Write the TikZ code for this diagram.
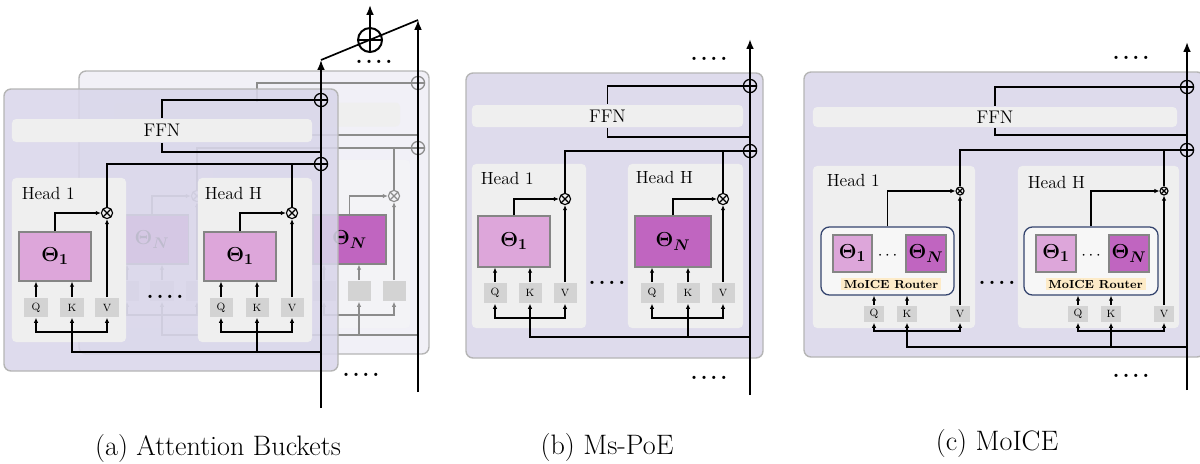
\documentclass[tikz,border=0pt]{standalone}
\usepackage{amsmath}
\usepackage{bm}
\usepackage{tikz}
\usetikzlibrary{positioning, arrows.meta}

\definecolor{layerfill}{HTML}{DEDBEC}
\definecolor{frontfill}{HTML}{D9D6EA}
\definecolor{backfill}{HTML}{F1F0F7}
\definecolor{layerline}{HTML}{B5B5B5}
\definecolor{headfill}{HTML}{EFEFEF}
\definecolor{backhead}{HTML}{F3F3F6}
\definecolor{thetalight}{HTML}{DDA6DA}
\definecolor{thetadark}{HTML}{C065C0}
\definecolor{thetaline}{HTML}{858585}
\definecolor{qkvfill}{HTML}{D3D3D3}
\definecolor{routerline}{HTML}{34446E}
\definecolor{labelfill}{HTML}{FDEBC8}
\definecolor{wiregray}{HTML}{8C8C8C}

\begin{document}
\begin{tikzpicture}[x=0.025cm, y=-0.025cm, line width=1.1pt, >={Latex[length=3.6pt,width=3.2pt]}]
        \tikzset{
            layer/.style={draw=layerline, line width=1pt, rounded corners=5pt},
            ffnbar/.style={fill=headfill, rounded corners=3pt, inner sep=0pt, font=\fontsize{13}{15}\selectfont},
            headbox/.style={fill=headfill, rounded corners=3pt, inner sep=0pt},
            headlabel/.style={anchor=west, inner sep=0pt, font=\fontsize{12.5}{15}\selectfont},
            thetaone/.style={draw=thetaline, line width=0.9pt, fill=thetalight, inner sep=0pt, font=\fontsize{15}{17}\selectfont},
            thetaN/.style={thetaone, fill=thetadark},
            qkv/.style={fill=qkvfill, inner sep=0pt, minimum width=0.575cm, minimum height=0.5cm, font=\fontsize{7.5}{8}\selectfont},
            oplus/.style={circle, draw, line width=0.9pt, inner sep=0pt, minimum size=0.33cm,
                path picture={\draw[line width=0.9pt] (path picture bounding box.north) -- (path picture bounding box.south)
                    (path picture bounding box.west) -- (path picture bounding box.east);}},
            otimes/.style={circle, draw, line width=0.8pt, inner sep=0pt, minimum size=0.28cm,
                path picture={\draw[line width=0.8pt] (path picture bounding box.north west) -- (path picture bounding box.south east)
                    (path picture bounding box.north east) -- (path picture bounding box.south west);}},
            router/.style={draw=routerline, line width=0.9pt, fill=headfill!50!white, rounded corners=6pt, inner sep=0pt,
                minimum width=3.325cm, minimum height=1.7cm},
            routerlabel/.style={fill=labelfill, inner sep=1pt, minimum width=2.5cm, font=\bfseries\fontsize{8.3}{9}\selectfont},
            dots/.style={inner sep=0pt, font=\bfseries\fontsize{16}{16}\selectfont},
            caption/.style={font=\fontsize{20}{22}\selectfont},
            backwire/.style={draw=wiregray, line width=0.9pt},
            bigtip/.style={-{Latex[length=7pt,width=5.5pt]}}
        }
        \useasboundingbox (0,0) rectangle (1200,463);

        % (a) back layer
        \draw[layer, fill=backfill] (79,71) rectangle (429,354);
        \node[ffnbar, minimum width=7.15cm, minimum height=0.6cm] (ffnB) at (257,114.5) {};
        \node[headbox, fill=backhead, minimum width=2.725cm, minimum height=4.2cm] (headB1) at (158.5,244) {};
        \node[headbox, fill=backhead, minimum width=2.725cm, minimum height=4.2cm] (headBH) at (355.5,244) {};
        \node[thetaN, minimum width=1.825cm, minimum height=1.225cm] (thetaB1) at (152,239.5) {$\bm{\Theta_N}$};
        \node[thetaN, minimum width=1.825cm, minimum height=1.225cm] (thetaBH) at (349.5,239.5) {$\bm{\Theta_N}$};
        \node[qkv] (qB1) at (127,291) {};
        \node[qkv] (kB1) at (162,291) {};
        \node[qkv] (vB1) at (197,291) {};
        \node[qkv] (qBH) at (324,291) {};
        \node[qkv] (kBH) at (359,291) {};
        \node[qkv] (vBH) at (394,291) {};
        \node[otimes, draw=wiregray] (mulB1) at (197,196) {};
        \node[otimes, draw=wiregray] (mulBH) at (394,196) {};
        \node[oplus, draw=wiregray] (addB1) at (418,83) {};
        \node[oplus, draw=wiregray] (addB2) at (418,148) {};
        \coordinate (resBbot) at (418,392);
        \coordinate (resBtop) at (418,20);
        \coordinate (retB) at (418,135);
        \coordinate (mainB) at (418,335);
        \coordinate (busB1) at (162,315);
        \coordinate (busBH) at (359,315);

        \draw[backwire] (addB1) -| (ffnB);
        \draw[backwire] (ffnB) |- (retB);
        \draw[backwire] (addB2) -| (mulB1);
        \draw[backwire] (mulBH) |- (addB2);
        \draw[backwire, ->] (thetaB1) |- (mulB1);
        \draw[backwire, ->] (thetaBH) |- (mulBH);
        \path[backwire, ->]
        (qB1) edge (qB1 |- thetaB1.south)
        (kB1) edge (kB1 |- thetaB1.south)
        (vB1) edge (mulB1)
        (qBH) edge (qBH |- thetaBH.south)
        (kBH) edge (kBH |- thetaBH.south)
        (vBH) edge (mulBH);
        \draw[backwire, ->] (mainB) -| (kB1);
        \draw[backwire, ->] (mainB) -| (kBH);
        \draw[backwire, ->] (busB1) -| (qB1);
        \draw[backwire, ->] (busB1) -| (vB1);
        \draw[backwire, ->] (busBH) -| (qBH);
        \draw[backwire, ->] (busBH) -| (vBH);

        % (a) front layer
        \draw[layer, fill=frontfill, fill opacity=0.88] (4,89) rectangle (338,371);
        \node[ffnbar, minimum width=7.5cm, minimum height=0.575cm] (ffnA) at (162,130.5) {FFN};
        \node[headbox, minimum width=2.85cm, minimum height=4.1cm] (headA1) at (69,260) {};
        \node[headbox, minimum width=2.85cm, minimum height=4.1cm] (headAH) at (255,260) {};
        \node[headlabel] (labA1) at (21,193) {Head 1};
        \node[headlabel] (labAH) at (204,193) {Head H};
        \node[thetaone, minimum width=1.8cm, minimum height=1.225cm] (thetaA1) at (55,256.5) {$\bm{\Theta_1}$};
        \node[thetaone, minimum width=1.8cm, minimum height=1.225cm] (thetaAH) at (240,256.5) {$\bm{\Theta_1}$};
        \node[qkv, minimum height=0.475cm] (qA1) at (36,307.5) {Q};
        \node[qkv, minimum height=0.475cm] (kA1) at (72,307.5) {K};
        \node[qkv, minimum height=0.475cm] (vA1) at (107,307.5) {V};
        \node[qkv, minimum height=0.475cm] (qAH) at (221,307.5) {Q};
        \node[qkv, minimum height=0.475cm] (kAH) at (257,307.5) {K};
        \node[qkv, minimum height=0.475cm] (vAH) at (292,307.5) {V};
        \node[otimes] (mulA1) at (107,213) {};
        \node[otimes] (mulAH) at (292,213) {};
        \node[oplus] (addA1) at (321,100) {};
        \node[oplus] (addA2) at (321,164) {};
        \node[dots] (dotsA) at (165,297) {.\hspace{2pt}.\hspace{2pt}.\hspace{2pt}.};
        \coordinate (resAbot) at (321,408);
        \coordinate (resAtop) at (321,60);
        \coordinate (retA) at (321,152);
        \coordinate (mainA) at (321,352);
        \coordinate (busA1) at (72,332);
        \coordinate (busAH) at (257,332);

        \draw (addA1) -| (ffnA);
        \draw (ffnA) |- (retA);
        \draw (addA2) -| (mulA1);
        \draw (mulAH) |- (addA2);
        \draw[->] (thetaA1) |- (mulA1);
        \draw[->] (thetaAH) |- (mulAH);
        \path[->]
        (qA1) edge (qA1 |- thetaA1.south)
        (kA1) edge (kA1 |- thetaA1.south)
        (vA1) edge (mulA1)
        (qAH) edge (qAH |- thetaAH.south)
        (kAH) edge (kAH |- thetaAH.south)
        (vAH) edge (mulAH);
        \draw[->] (mainA) -| (kA1);
        \draw[->] (mainA) -| (kAH);
        \draw[->] (busA1) -| (qA1);
        \draw[->] (busA1) -| (vA1);
        \draw[->] (busAH) -| (qAH);
        \draw[->] (busAH) -| (vAH);

        % (a) residual streams and their sum
        \draw[line width=1pt, bigtip] (resBbot) -- (resBtop);
        \draw[line width=1.2pt, bigtip] (resAbot) -- (resAtop);
        \draw[line width=1.2pt] (resAtop) -- (resBtop);
        \node[oplus, line width=1.4pt, minimum size=0.6cm] (sumA) at (370,40) {};
        \coordinate (outA) at (370,5);
        \draw[line width=1.2pt, bigtip] (sumA) -- (outA);
        \node[dots] (topA) at (374,62) {.\hspace{2pt}.\hspace{2pt}.\hspace{2pt}.};
        \node[dots] (botA) at (361,375) {.\hspace{2pt}.\hspace{2pt}.\hspace{2pt}.};
        \node[caption] (capA) at (218,448) {(a) Attention Buckets};

        % (b) Ms-PoE
        \draw[layer, fill=layerfill] (466,73) rectangle (763,358);
        \node[ffnbar, minimum width=6.775cm, minimum height=0.55cm] (ffnP) at (607.5,116) {FFN};
        \node[headbox, minimum width=2.85cm, minimum height=4.1cm] (headP1) at (529,246) {};
        \node[headbox, minimum width=2.875cm, minimum height=4.1cm] (headPH) at (685.5,246) {};
        \node[headlabel] (labP1) at (480,178) {Head 1};
        \node[headlabel] (labPH) at (635,177) {Head H};
        \node[thetaone, minimum width=1.8cm, minimum height=1.275cm] (thetaP1) at (514,241.5) {$\bm{\Theta_1}$};
        \node[thetaN, minimum width=1.9cm, minimum height=1.275cm] (thetaPH) at (673,241.5) {$\bm{\Theta_N}$};
        \node[qkv] (qP1) at (495,293) {Q};
        \node[qkv] (kP1) at (530,293) {K};
        \node[qkv] (vP1) at (565,293) {V};
        \node[qkv] (qPH) at (652,293) {Q};
        \node[qkv] (kPH) at (688,293) {K};
        \node[qkv] (vPH) at (723,293) {V};
        \node[otimes] (mulP1) at (565,199) {};
        \node[otimes] (mulPH) at (723,199) {};
        \node[oplus] (addP1) at (750,86) {};
        \node[oplus] (addP2) at (750,151) {};
        \node[dots] (dotsP) at (607,283) {.\hspace{2pt}.\hspace{2pt}.\hspace{2pt}.};
        \node[dots] (topP) at (709,59) {.\hspace{2pt}.\hspace{2pt}.\hspace{2pt}.};
        \node[dots] (botP) at (709,378) {.\hspace{2pt}.\hspace{2pt}.\hspace{2pt}.};
        \coordinate (resPbot) at (750,395);
        \coordinate (resPtop) at (750,39);
        \coordinate (retP) at (750,137);
        \coordinate (mainP) at (750,337);
        \coordinate (busP1) at (530,318);
        \coordinate (busPH) at (688,318);

        \draw (addP1) -| (ffnP);
        \draw (ffnP) |- (retP);
        \draw (addP2) -| (mulP1);
        \draw (mulPH) |- (addP2);
        \draw[->, line width=1.5pt] (thetaP1) |- (mulP1);
        \draw[->] (thetaPH) |- (mulPH);
        \path[->]
        (qP1) edge (qP1 |- thetaP1.south)
        (kP1) edge (kP1 |- thetaP1.south)
        (vP1) edge (mulP1)
        (qPH) edge (qPH |- thetaPH.south)
        (kPH) edge (kPH |- thetaPH.south)
        (vPH) edge (mulPH);
        \draw[->] (mainP) -| (kP1);
        \draw[->] (mainP) -| (kPH);
        \draw[->] (busP1) -| (qP1);
        \draw[->] (busP1) -| (vP1);
        \draw[->] (busPH) -| (qPH);
        \draw[->] (busPH) -| (vPH);
        \draw[line width=1.9pt, bigtip] (resPbot) -- (resPtop);
        \node[caption] (capP) at (607,447) {(b) Ms-PoE};

        % (c) MoICE
        \draw[layer, fill=layerfill] (804,72) rectangle (1204,357);
        \node[ffnbar, minimum width=9.1cm, minimum height=0.5cm] (ffnC) at (995,117) {FFN};
        \node[headbox, minimum width=4.05cm, minimum height=4.05cm] (headC1) at (894,247) {};
        \node[headbox, minimum width=4.025cm, minimum height=4.05cm] (headCH) at (1098.5,247) {};
        \node[headlabel] (labC1) at (826,180) {Head 1};
        \node[headlabel] (labCH) at (1027,182) {Head H};
        \node[router] (routerC1) at (887.5,261) {};
        \node[router, minimum width=3.35cm] (routerCH) at (1091,261) {};
        \node[thetaone, minimum width=0.975cm, minimum height=0.925cm] (thetaC1a) at (852.5,253.5) {$\bm{\Theta_1}$};
        \node[thetaN, minimum width=1cm, minimum height=0.925cm] (thetaC1n) at (926,253.5) {$\bm{\Theta_N}$};
        \node[thetaone, minimum width=1cm, minimum height=0.925cm] (thetaCHa) at (1056,253.5) {$\bm{\Theta_1}$};
        \node[thetaN, minimum width=1cm, minimum height=0.925cm] (thetaCHn) at (1129,253.5) {$\bm{\Theta_N}$};
        \node[inner sep=0pt, font=\fontsize{13}{15}\selectfont] (ellC1) at (889,256) {$\cdots$};
        \node[inner sep=0pt, font=\fontsize{13}{15}\selectfont] (ellCH) at (1092.5,256) {$\cdots$};
        \node[routerlabel] (rlabC1) at (891,284) {MoICE Router};
        \node[routerlabel] (rlabCH) at (1095.5,284) {MoICE Router};
        \node[qkv, minimum width=0.5cm, minimum height=0.4cm] (qC1) at (874,314) {Q};
        \node[qkv, minimum width=0.5cm, minimum height=0.4cm] (kC1) at (907,314) {K};
        \node[qkv, minimum width=0.5cm, minimum height=0.4cm] (vC1) at (960,314) {V};
        \node[qkv, minimum width=0.5cm, minimum height=0.4cm] (qCH) at (1078,314) {Q};
        \node[qkv, minimum width=0.5cm, minimum height=0.4cm] (kCH) at (1111,314) {K};
        \node[qkv, minimum width=0.5cm, minimum height=0.4cm] (vCH) at (1164,314) {V};
        \node[otimes, minimum size=0.2cm] (mulC1) at (960,191) {};
        \node[otimes, minimum size=0.2cm] (mulCH) at (1164,191) {};
        \node[oplus] (addC1) at (1187,87) {};
        \node[oplus] (addC2) at (1187,150) {};
        \node[dots] (dotsC) at (997,283) {.\hspace{2pt}.\hspace{2pt}.\hspace{2pt}.};
        \node[dots] (topC) at (1131,58) {.\hspace{2pt}.\hspace{2pt}.\hspace{2pt}.};
        \node[dots] (botC) at (1131,376) {.\hspace{2pt}.\hspace{2pt}.\hspace{2pt}.};
        \coordinate (resCbot) at (1187,390);
        \coordinate (resCtop) at (1187,42);
        \coordinate (retC) at (1187,135);
        \coordinate (mainC) at (1187,347);
        \coordinate (busC1) at (907,331);
        \coordinate (busCH) at (1111,331);

        \draw (addC1) -| (ffnC);
        \draw (ffnC) |- (retC);
        \draw (addC2) -| (mulC1);
        \draw (mulCH) |- (addC2);
        \draw[->] (routerC1) |- (mulC1);
        \draw[->] (routerCH) |- (mulCH);
        \path[->]
        (qC1) edge (qC1 |- routerC1.south)
        (kC1) edge (kC1 |- routerC1.south)
        (vC1) edge (mulC1)
        (qCH) edge (qCH |- routerCH.south)
        (kCH) edge (kCH |- routerCH.south)
        (vCH) edge (mulCH);
        \draw[->] (mainC) -| (kC1);
        \draw[->] (mainC) -| (kCH);
        \draw[->] (busC1) -| (qC1);
        \draw[->] (busC1) -| (vC1);
        \draw[->] (busCH) -| (qCH);
        \draw[->] (busCH) -| (vCH);
        \draw[line width=1.3pt, bigtip] (resCbot) -- (resCtop);
        \node[caption] (capC) at (997,443) {(c) MoICE};
    \end{tikzpicture}
\end{document}
